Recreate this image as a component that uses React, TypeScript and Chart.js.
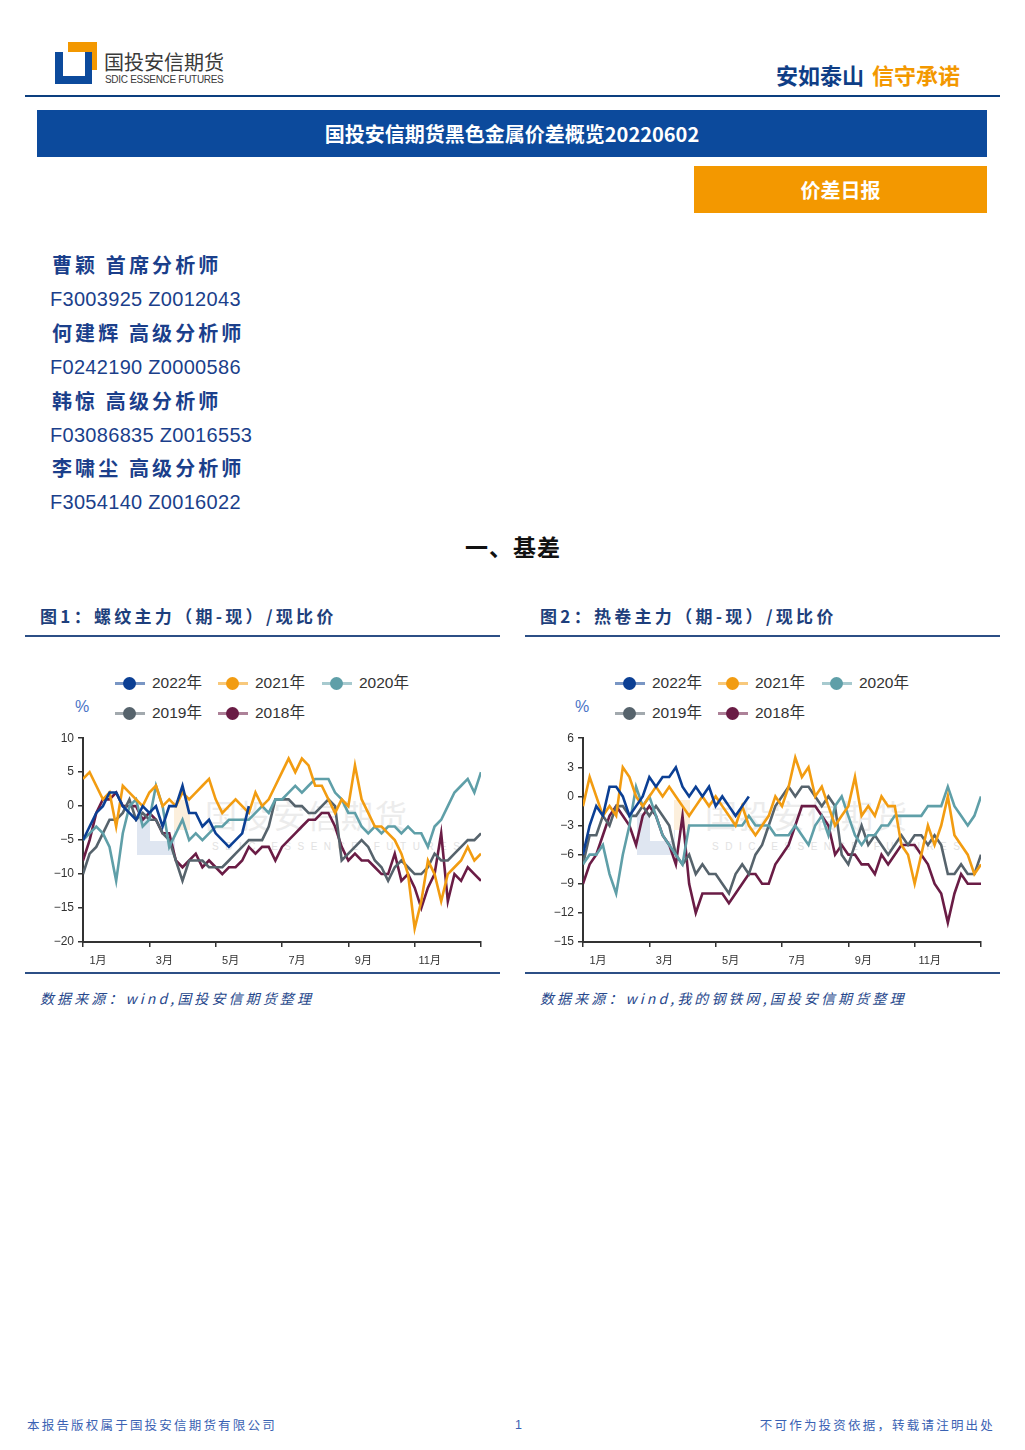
import React, { useEffect, useRef } from 'react';
import { Chart, registerables } from 'chart.js';

Chart.register(...registerables);

// ---------- data ----------
const YEARS = ['2022年', '2021年', '2020年', '2019年', '2018年'];
const COLORS = ['#0b3f94', '#f29c11', '#5f9fa8', '#56636c', '#6a1c45'];
const LEGEND_ALPHA = ['rgba(11,63,148,0.55)', 'rgba(242,156,17,0.55)', 'rgba(95,159,168,0.55)', 'rgba(86,99,108,0.55)', 'rgba(106,28,69,0.55)'];
const MONTH_TICKS = ['1月', '3月', '5月', '7月', '9月', '11月', ''];
const STEP = 0.2; // months between samples

// Figure 1: rebar main contract (futures - spot) / spot, %
const REBAR_2022 = [-5, -3, -1, 0, 2, 2, 0, -1, -2, 0, -1, 0, -3, 0, 0, 3, -1, -1, -3, -2, -4, -5, -6, -5, -4, 0];
const REBAR_2021 = [4, 5, 3, 1, 2, -3, 3, 2, 1, 0, 2, 3, 0, 1, 0, 2, 1, 2, 3, 4, 1, -1, 0, 1, 0, -1, 2, 0, 1, 3, 5, 7, 5, 7, 6, 3, 3, 1, -1, 1, 0, 6, 1, -1, -3, -3, -4, -5, -7, -10, -18, -14, -8, -10, -14, -10, -9, -8, -6, -8, -7];
const REBAR_2020 = [-5, -4, -3, -4, -6, -11, -4, 0, 1, -3, -2, 3, 0, -6, -4, -2, -5, -4, -5, -4, -3, -3, -2, -2, -2, -2, -1, 0, -1, 1, 1, 2, 3, 2, 3, 4, 4, 4, 2, 1, -1, -1, -3, -4, -3, -4, -3, -3, -4, -3, -4, -4, -6, -3, -2, 0, 2, 3, 4, 2, 5];
const REBAR_2019 = [-10, -7, -6, -4, -2, -2, -1, 1, -2, -1, -2, -2, -4, -5, -8, -11, -8, -8, -8, -9, -9, -9, -8, -7, -6, -5, -5, -5, -3, 1, 1, 1, 0, 0, -1, -1, 0, 1, 0, -8, -7, -6, -5, -6, -8, -9, -11, -9, -8, -9, -10, -10, -9, -7, -8, -8, -7, -6, -5, -5, -4];
const REBAR_2018 = [-8, -5, -1, 1, 1, 2, 0, 0, 0, -2, -1, -2, -4, -4, -8, -9, -8, -7, -9, -8, -9, -10, -9, -9, -8, -6, -7, -6, -6, -8, -6, -5, -4, -3, -2, -2, -1, -1, -3, -6, -8, -7, -8, -8, -9, -10, -10, -7, -11, -10, -12, -15, -12, -10, -4, -14, -10, -11, -9, -10, -11];

// Figure 2: hot-rolled coil main contract (futures - spot) / spot, %
const COIL_2022 = [-6, -3, -1, -2, 1, 1, 0, -2, -1, 0, 2, 1, 2, 2, 3, 1, 0, 1, 0, 1, -1, 0, -1, -2, -1, 0];
const COIL_2021 = [-1, 2, 0, -2, -1, -2, 3, 2, 0, -1, 0, 1, 0, 1, 0, -1, -2, -1, 0, -1, 0, -1, -2, -3, -1, -3, -4, -3, -2, 0, -1, 1, 4, 2, 3, 0, 1, -1, -3, -2, -1, 2, -2, -1, -2, 0, -1, -1, -5, -6, -9, -6, -3, -5, -3, 0, -4, -5, -6, -8, -7];
const COIL_2020 = [-7, -6, -6, -5, -8, -10, -6, -3, 1, -1, 0, -2, -4, -5, -6, -7, -3, -3, -3, -3, -3, -3, -3, -3, -3, -2, -3, -3, -3, -4, -4, -4, -3, -4, -5, -3, -2, -4, -1, 0, -2, -4, -5, -4, -4, -3, -3, -2, -2, -2, -2, -2, -1, -1, -1, 1, -1, -2, -3, -2, 0];
const COIL_2019 = [-7, -4, -4, -2, -3, -1, -1, -2, -2, -1, -2, -1, -2, -3, -6, -7, -6, -8, -7, -8, -8, -9, -10, -8, -7, -8, -6, -5, -3, -1, 0, 1, 0, 1, 1, 0, -1, 0, -1, -6, -7, -5, -3, -5, -4, -5, -6, -5, -4, -5, -4, -4, -5, -4, -5, -8, -8, -7, -8, -8, -6];
const COIL_2018 = [-9, -7, -6, -4, -2, -1, -2, -3, -5, -2, -1, -2, -4, -5, -7, -2, -9, -12, -10, -10, -10, -10, -11, -10, -9, -8, -8, -9, -9, -7, -6, -5, -3, -1, -1, -1, -2, -3, -6, -5, -6, -6, -7, -7, -8, -6, -7, -6, -5, -5, -5, -6, -7, -9, -10, -13, -10, -8, -9, -9, -9];

const REBAR_SERIES = [REBAR_2022, REBAR_2021, REBAR_2020, REBAR_2019, REBAR_2018];
const COIL_SERIES = [COIL_2022, COIL_2021, COIL_2020, COIL_2019, COIL_2018];

const ANALYSTS = [
  ['曹颖 首席分析师', 'F3003925 Z0012043'],
  ['何建辉 高级分析师', 'F0242190 Z0000586'],
  ['韩惊 高级分析师', 'F03086835 Z0016553'],
  ['李啸尘 高级分析师', 'F3054140 Z0016022'],
];

const SANS = '"Liberation Sans", "Noto Sans CJK SC", sans-serif';
const CJK = '"Noto Sans CJK SC", sans-serif';
const BLUE_TEXT = '#1b3f8b';

// ---------- chart ----------
function SpreadChart(props: { left: number; series: number[][]; yMin: number; yMax: number; yStep: number }) {
  const ref = useRef<HTMLCanvasElement>(null);
  useEffect(() => {
    const axisGrid = { display: true, drawOnChartArea: false, drawTicks: true, tickLength: 5, color: '#333', lineWidth: 1.5 };
    const axisBorder = { display: true, color: '#333', width: 2 };
    const chart = new Chart(ref.current as HTMLCanvasElement, {
      type: 'line',
      data: {
        datasets: props.series.map((vals, k) => ({
          label: YEARS[k],
          data: vals.map((v, i) => ({ x: i * STEP, y: v })),
          borderColor: COLORS[k],
          backgroundColor: COLORS[k],
          borderWidth: 2.6,
          pointRadius: 0,
          tension: 0,
          fill: false,
        })),
      },
      options: {
        animation: false,
        responsive: false,
        maintainAspectRatio: false,
        layout: { padding: { top: 10, right: 19, bottom: 0, left: 0 } },
        plugins: { legend: { display: false }, tooltip: { enabled: false } },
        scales: {
          x: {
            type: 'linear',
            min: 0,
            max: 12,
            afterFit: (s: any) => { s.height = 28; },
            afterBuildTicks: (s: any) => { s.ticks = [0, 2, 4, 6, 8, 10, 12].map((v) => ({ value: v })); },
            ticks: {
              autoSkip: false,
              maxRotation: 0,
              labelOffset: 15,
              padding: 7,
              color: '#333',
              font: { size: 11, family: SANS },
              callback: (v: any) => MONTH_TICKS[Math.round(Number(v) / 2)] ?? '',
            },
            grid: axisGrid,
            border: axisBorder,
          },
          y: {
            min: props.yMin,
            max: props.yMax,
            afterFit: (s: any) => { s.width = 58; },
            ticks: {
              stepSize: props.yStep,
              padding: 4,
              color: '#333',
              font: { size: 12, family: SANS },
              callback: (v: any) => String(v).replace('-', '−'),
            },
            grid: axisGrid,
            border: axisBorder,
          },
        },
      } as any,
    });
    return () => chart.destroy();
  }, []);
  return (
    <canvas
      ref={ref}
      width={475}
      height={243}
      style={{ position: 'absolute', left: props.left, top: 727, width: 475, height: 243 }}
    />
  );
}

function Watermark({ dx }: { dx: number }) {
  return (
    <>
      <div style={{ position: 'absolute', left: 137 + dx, top: 813, width: 38, height: 42, background: '#dfe6f1' }} />
      <div style={{ position: 'absolute', left: 150 + dx, top: 813, width: 24, height: 28, background: '#fff' }} />
      <div style={{ position: 'absolute', left: 174 + dx, top: 800, width: 16, height: 30, background: '#fcefdc' }} />
      <div style={{ position: 'absolute', left: 205 + dx, top: 795, fontFamily: CJK, fontSize: 32, color: '#ececec', letterSpacing: 2, lineHeight: '38px' }}>国投安信期货</div>
      <div style={{ position: 'absolute', left: 212 + dx, top: 841, fontFamily: SANS, fontSize: 10, color: '#e2e2e2', letterSpacing: 6.5, lineHeight: '12px', whiteSpace: 'nowrap' }}>SDIC ESSENCE FUTURES</div>
    </>
  );
}

function Legend({ dx }: { dx: number }) {
  const pos = [[115, 683], [218, 683], [322, 683], [115, 713], [218, 713]];
  return (
    <>
      {YEARS.map((y, k) => (
        <div key={y}>
          <div style={{ position: 'absolute', left: pos[k][0] + dx, top: pos[k][1] - 1.5, width: 30, height: 3, background: LEGEND_ALPHA[k] }} />
          <div style={{ position: 'absolute', left: pos[k][0] + dx + 8, top: pos[k][1] - 6.5, width: 13, height: 13, borderRadius: '50%', background: COLORS[k] }} />
          <div style={{ position: 'absolute', left: pos[k][0] + dx + 37, top: pos[k][1] - 10, fontFamily: SANS, fontSize: 15.5, color: '#333', lineHeight: '20px', whiteSpace: 'nowrap' }}>{y}</div>
        </div>
      ))}
      <div style={{ position: 'absolute', left: 75 + dx, top: 697, fontFamily: SANS, fontSize: 16, color: '#4a73c6', lineHeight: '20px' }}>%</div>
    </>
  );
}

function Figure({ dx, title, source, series, yMin, yMax, yStep }: any) {
  return (
    <>
      <div style={{ position: 'absolute', left: 40 + dx, top: 604, fontFamily: CJK, fontWeight: 700, fontSize: 17, color: '#1e3f7c', letterSpacing: 3.3, lineHeight: '24px', whiteSpace: 'nowrap' }}>{title}</div>
      <div style={{ position: 'absolute', left: 25 + dx, top: 635, width: 475, height: 1.5, background: '#2c4f86' }} />
      <Watermark dx={dx} />
      <Legend dx={dx} />
      <SpreadChart left={25 + dx} series={series} yMin={yMin} yMax={yMax} yStep={yStep} />
      <div style={{ position: 'absolute', left: 25 + dx, top: 972, width: 475, height: 1.5, background: '#2c4f86' }} />
      <div style={{ position: 'absolute', left: 40 + dx, top: 988, fontFamily: CJK, fontStyle: 'italic', fontSize: 14, color: '#27488c', letterSpacing: 3.1, lineHeight: '20px', whiteSpace: 'nowrap' }}>{source}</div>
    </>
  );
}

export default function App() {
  return (
    <div style={{ position: 'absolute', left: 0, top: 0, width: 1025, height: 1450, overflow: 'hidden', background: '#fff' }}>
      {/* logo */}
      <div style={{ position: 'absolute', left: 68, top: 42, width: 29, height: 28, background: '#f39800' }} />
      <div style={{ position: 'absolute', left: 55, top: 52, width: 37, height: 32, background: '#0c4a9c' }} />
      <div style={{ position: 'absolute', left: 63, top: 52, width: 22, height: 24, background: '#fff' }} />
      <div style={{ position: 'absolute', left: 104, top: 49, fontFamily: CJK, fontSize: 20, color: '#3a3a3a', lineHeight: '26px', whiteSpace: 'nowrap' }}>国投安信期货</div>
      <div style={{ position: 'absolute', left: 105, top: 74, fontFamily: SANS, fontSize: 10, color: '#3a3a3a', lineHeight: '11px', letterSpacing: -0.3, whiteSpace: 'nowrap' }}>SDIC ESSENCE FUTURES</div>
      <div style={{ position: 'absolute', left: 776, top: 60, fontFamily: CJK, fontWeight: 700, fontSize: 22, color: '#0f3e86', lineHeight: '28px', whiteSpace: 'nowrap' }}>安如泰山</div>
      <div style={{ position: 'absolute', left: 872, top: 60, fontFamily: CJK, fontWeight: 700, fontSize: 22, color: '#f39800', lineHeight: '28px', whiteSpace: 'nowrap' }}>信守承诺</div>
      <div style={{ position: 'absolute', left: 25, top: 95, width: 975, height: 2, background: '#0c3f7f' }} />

      {/* title bars */}
      <div style={{ position: 'absolute', left: 37, top: 110, width: 950, height: 47, background: '#0c4a9c', color: '#fff', fontFamily: CJK, fontWeight: 700, fontSize: 20, lineHeight: '47px', textAlign: 'center', whiteSpace: 'nowrap' }}>国投安信期货黑色金属价差概览20220602</div>
      <div style={{ position: 'absolute', left: 694, top: 166, width: 293, height: 47, background: '#f39800', color: '#fff', fontFamily: CJK, fontWeight: 700, fontSize: 20, lineHeight: '47px', textAlign: 'center' }}>价差日报</div>

      {/* analysts */}
      {ANALYSTS.map(([name, id], i) => (
        <div key={id}>
          <div style={{ position: 'absolute', left: 52, top: 252 + i * 67.8, fontFamily: CJK, fontWeight: 700, fontSize: 20, color: BLUE_TEXT, letterSpacing: 3.1, lineHeight: '26px', whiteSpace: 'pre' }}>{name}</div>
          <div style={{ position: 'absolute', left: 50, top: 287 + i * 67.8, fontFamily: SANS, fontSize: 20, color: BLUE_TEXT, letterSpacing: 0.3, lineHeight: '24px', whiteSpace: 'pre' }}>{id}</div>
        </div>
      ))}

      <div style={{ position: 'absolute', left: 465, top: 532, fontFamily: CJK, fontWeight: 700, fontSize: 23, color: '#111', letterSpacing: 1, lineHeight: '28px' }}>一、基差</div>

      <Figure dx={0} title="图1：螺纹主力（期-现）/现比价" source="数据来源：wind,国投安信期货整理" series={REBAR_SERIES} yMin={-20} yMax={10} yStep={5} />
      <Figure dx={500} title="图2：热卷主力（期-现）/现比价" source="数据来源：wind,我的钢铁网,国投安信期货整理" series={COIL_SERIES} yMin={-15} yMax={6} yStep={3} />

      {/* footer */}
      <div style={{ position: 'absolute', left: 27, top: 1417, fontFamily: CJK, fontSize: 12.5, color: '#3a62b3', letterSpacing: 2.2, lineHeight: '16px', whiteSpace: 'nowrap' }}>本报告版权属于国投安信期货有限公司</div>
      <div style={{ position: 'absolute', left: 515, top: 1417, fontFamily: SANS, fontSize: 12.5, color: '#3a62b3', lineHeight: '16px' }}>1</div>
      <div style={{ position: 'absolute', right: 30, top: 1417, fontFamily: CJK, fontSize: 12.5, color: '#3a62b3', letterSpacing: 2.2, lineHeight: '16px', whiteSpace: 'nowrap' }}>不可作为投资依据，转载请注明出处</div>
    </div>
  );
}
